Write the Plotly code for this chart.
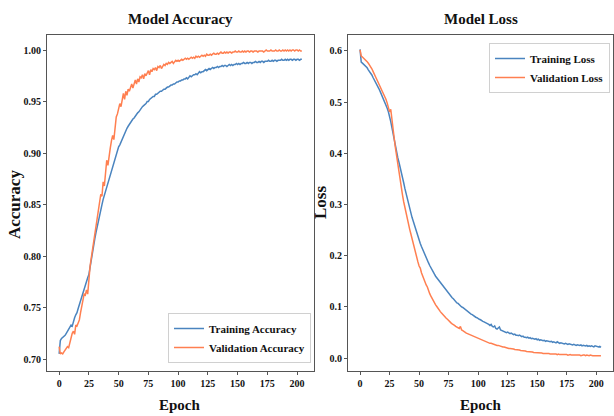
import plotly.graph_objects as go

epochs = list(range(205))

train_acc = [
0.705,0.718,0.720,0.721,0.722,0.723,0.725,0.727,0.728,0.731,
0.733,0.732,0.737,0.740,0.743,0.745,0.749,0.753,0.756,0.760,
0.764,0.767,0.771,0.775,0.779,0.782,0.790,0.797,0.804,0.811,
0.817,0.823,0.829,0.835,0.840,0.845,0.850,0.855,0.859,0.863,
0.867,0.871,0.875,0.879,0.883,0.887,0.891,0.894,0.898,0.902,
0.906,0.908,0.911,0.914,0.917,0.920,0.921,0.924,0.926,0.928,
0.929,0.931,0.933,0.934,0.936,0.937,0.939,0.940,0.942,0.943,
0.945,0.946,0.947,0.948,0.950,0.950,0.952,0.953,0.954,0.955,
0.955,0.957,0.957,0.958,0.959,0.960,0.960,0.961,0.962,0.962,
0.963,0.964,0.964,0.965,0.966,0.966,0.967,0.967,0.968,0.969,
0.969,0.970,0.970,0.971,0.971,0.972,0.972,0.973,0.972,0.974,
0.975,0.974,0.975,0.976,0.976,0.977,0.976,0.978,0.979,0.978,
0.979,0.979,0.980,0.981,0.980,0.981,0.982,0.981,0.982,0.983,
0.982,0.983,0.983,0.984,0.983,0.984,0.984,0.985,0.984,0.985,
0.985,0.984,0.985,0.986,0.985,0.986,0.985,0.986,0.986,0.987,
0.986,0.987,0.986,0.987,0.987,0.988,0.987,0.987,0.988,0.987,
0.988,0.988,0.987,0.988,0.988,0.989,0.988,0.988,0.989,0.988,
0.989,0.989,0.988,0.989,0.989,0.989,0.990,0.989,0.989,0.990,
0.989,0.990,0.990,0.989,0.990,0.990,0.990,0.991,0.990,0.990,
0.991,0.990,0.991,0.990,0.991,0.991,0.990,0.991,0.991,0.990,
0.991,0.991,0.990,0.991,0.991]

val_acc = [
0.712,0.705,0.706,0.705,0.707,0.709,0.711,0.712,0.711,0.716,
0.720,0.725,0.727,0.724,0.733,0.732,0.735,0.738,0.745,0.751,
0.757,0.763,0.762,0.767,0.763,0.780,0.790,0.798,0.806,0.814,
0.821,0.828,0.838,0.847,0.854,0.860,0.858,0.872,0.868,0.882,
0.893,0.888,0.900,0.905,0.912,0.917,0.913,0.926,0.935,0.938,
0.944,0.948,0.945,0.953,0.958,0.952,0.960,0.956,0.962,0.960,
0.964,0.967,0.963,0.968,0.971,0.967,0.972,0.969,0.974,0.973,
0.976,0.972,0.977,0.975,0.978,0.980,0.976,0.981,0.979,0.982,
0.981,0.983,0.980,0.984,0.983,0.985,0.982,0.984,0.986,0.985,
0.987,0.986,0.988,0.987,0.988,0.989,0.987,0.989,0.990,0.989,
0.990,0.989,0.990,0.991,0.990,0.991,0.992,0.991,0.992,0.991,
0.992,0.993,0.992,0.993,0.992,0.994,0.993,0.994,0.993,0.994,
0.995,0.994,0.995,0.994,0.996,0.995,0.995,0.996,0.995,0.996,
0.997,0.996,0.996,0.997,0.996,0.997,0.998,0.997,0.997,0.998,
0.997,0.998,0.997,0.998,0.998,0.997,0.998,0.998,0.999,0.998,
0.998,0.999,0.998,0.998,0.999,0.998,0.999,0.998,0.999,0.999,
0.998,0.999,0.999,0.998,0.999,0.999,0.999,0.998,0.999,0.999,
0.999,0.999,0.998,0.999,1.000,0.999,0.999,0.999,1.000,0.999,
0.999,0.999,1.000,0.999,0.999,1.000,0.999,0.999,1.000,0.999,
1.000,0.999,1.000,0.999,1.000,0.999,1.000,1.000,0.999,1.000,
1.000,0.999,1.000,0.999,0.999]

train_loss = [
0.603,0.578,0.576,0.574,0.572,0.570,0.567,0.563,0.560,0.556,
0.553,0.548,0.544,0.539,0.535,0.530,0.526,0.521,0.516,0.511,
0.506,0.500,0.494,0.488,0.481,0.473,0.462,0.450,0.437,0.424,
0.412,0.401,0.391,0.382,0.373,0.363,0.352,0.342,0.331,0.321,
0.311,0.301,0.292,0.283,0.275,0.268,0.260,0.253,0.245,0.238,
0.231,0.224,0.218,0.212,0.206,0.200,0.196,0.190,0.186,0.181,
0.176,0.172,0.168,0.164,0.160,0.157,0.153,0.149,0.146,0.143,
0.140,0.137,0.134,0.131,0.128,0.126,0.123,0.120,0.118,0.116,
0.113,0.111,0.108,0.107,0.104,0.102,0.100,0.099,0.097,0.095,
0.093,0.091,0.090,0.088,0.086,0.085,0.083,0.082,0.080,0.079,
0.077,0.076,0.075,0.073,0.072,0.071,0.070,0.068,0.067,0.066,
0.064,0.066,0.062,0.061,0.063,0.058,0.057,0.059,0.061,0.055,
0.054,0.053,0.052,0.052,0.050,0.051,0.049,0.048,0.049,0.047,
0.046,0.047,0.045,0.045,0.044,0.045,0.043,0.042,0.043,0.041,
0.041,0.040,0.041,0.039,0.040,0.038,0.039,0.038,0.037,0.038,
0.036,0.037,0.035,0.036,0.035,0.034,0.035,0.033,0.034,0.033,
0.033,0.032,0.033,0.031,0.032,0.031,0.030,0.032,0.030,0.029,
0.030,0.029,0.029,0.028,0.029,0.028,0.027,0.028,0.027,0.027,
0.026,0.027,0.026,0.025,0.026,0.025,0.025,0.026,0.024,0.025,
0.024,0.024,0.025,0.023,0.024,0.023,0.024,0.023,0.022,0.024,
0.023,0.023,0.022,0.023,0.021]

val_loss = [
0.602,0.590,0.588,0.586,0.584,0.582,0.579,0.576,0.573,0.569,
0.565,0.560,0.556,0.550,0.545,0.540,0.537,0.531,0.526,0.521,
0.518,0.512,0.505,0.498,0.490,0.481,0.486,0.462,0.445,0.428,
0.410,0.393,0.378,0.362,0.347,0.333,0.318,0.305,0.293,0.282,
0.272,0.262,0.252,0.243,0.233,0.224,0.214,0.205,0.196,0.188,
0.180,0.176,0.167,0.160,0.154,0.148,0.143,0.139,0.131,0.126,
0.121,0.116,0.112,0.108,0.104,0.101,0.097,0.094,0.091,0.088,
0.085,0.083,0.080,0.078,0.076,0.073,0.071,0.069,0.067,0.066,
0.064,0.062,0.061,0.059,0.058,0.062,0.055,0.054,0.052,0.051,
0.049,0.048,0.047,0.046,0.045,0.043,0.042,0.041,0.040,0.039,
0.038,0.037,0.036,0.035,0.034,0.033,0.032,0.032,0.031,0.030,
0.029,0.029,0.028,0.027,0.027,0.026,0.025,0.025,0.024,0.023,
0.023,0.022,0.022,0.021,0.021,0.020,0.019,0.019,0.019,0.018,
0.018,0.017,0.017,0.016,0.016,0.016,0.015,0.015,0.014,0.014,
0.014,0.013,0.013,0.013,0.012,0.012,0.012,0.011,0.011,0.011,
0.011,0.010,0.010,0.010,0.010,0.009,0.009,0.010,0.009,0.009,
0.009,0.008,0.008,0.009,0.008,0.008,0.008,0.007,0.008,0.007,
0.007,0.007,0.008,0.007,0.007,0.007,0.006,0.007,0.007,0.006,
0.006,0.006,0.007,0.006,0.006,0.006,0.006,0.005,0.006,0.006,
0.006,0.005,0.006,0.005,0.005,0.006,0.005,0.005,0.005,0.005,
0.005,0.005,0.005,0.005,0.005]

acc_ticks = [0.70, 0.75, 0.80, 0.85, 0.90, 0.95, 1.00]
loss_ticks = [0.0, 0.1, 0.2, 0.3, 0.4, 0.5, 0.6]
epoch_ticks = [0, 25, 50, 75, 100, 125, 150, 175, 200]

BLUE = "#4a84bf"
ORANGE = "#ff7f50"
FONT = "Liberation Serif"

fig = go.Figure()
fig.add_trace(go.Scatter(x=epochs, y=train_acc, mode="lines", name="Training Accuracy",
                         line=dict(color=BLUE, width=1.5), xaxis="x", yaxis="y", legend="legend"))
fig.add_trace(go.Scatter(x=epochs, y=val_acc, mode="lines", name="Validation Accuracy",
                         line=dict(color=ORANGE, width=1.5), xaxis="x", yaxis="y", legend="legend"))
fig.add_trace(go.Scatter(x=epochs, y=train_loss, mode="lines", name="Training Loss",
                         line=dict(color=BLUE, width=1.5), xaxis="x2", yaxis="y2", legend="legend2"))
fig.add_trace(go.Scatter(x=epochs, y=val_loss, mode="lines", name="Validation Loss",
                         line=dict(color=ORANGE, width=1.5), xaxis="x2", yaxis="y2", legend="legend2"))

axis_common = dict(showline=True, linecolor="#555555", linewidth=1, mirror=True,
                   ticks="outside", ticklen=3, tickcolor="#555555", showgrid=False,
                   zeroline=False, tickfont=dict(family=FONT, size=10, color="#111", weight="bold"))

ydom = [1 - 371 / 416, 1 - 35 / 416]


def ann(text, x, y, size, angle=0):
    return dict(text=f"<b>{text}</b>", x=x / 614, y=1 - y / 416, xref="paper", yref="paper",
                xanchor="center", yanchor="middle", showarrow=False, textangle=angle,
                font=dict(family=FONT, size=size, color="#111"))


fig.update_layout(
    width=614, height=416,
    margin=dict(l=0, r=0, t=0, b=0),
    plot_bgcolor="white", paper_bgcolor="white",
    showlegend=True,
    xaxis=dict(domain=[47 / 614, 314 / 614], range=[-10.2, 214.2], tickvals=epoch_ticks,
               anchor="y", **axis_common),
    yaxis=dict(domain=ydom, range=[0.6884, 1.0146], tickvals=acc_ticks,
               ticktext=[f"{v:.2f}" for v in acc_ticks], anchor="x", **axis_common),
    xaxis2=dict(domain=[348 / 614, 613 / 614], range=[-10.2, 214.2], tickvals=epoch_ticks,
                anchor="y2", **axis_common),
    yaxis2=dict(domain=ydom, range=[-0.025, 0.631], tickvals=loss_ticks,
                ticktext=[f"{v:.1f}" for v in loss_ticks], anchor="x2", **axis_common),
    legend=dict(x=311 / 614, y=1 - 363 / 416, xanchor="right", yanchor="bottom",
                bgcolor="rgba(255,255,255,0.85)", bordercolor="#d0d0d0", borderwidth=1,
                font=dict(family=FONT, size=11, color="#111", weight="bold"),
                tracegroupgap=0, itemwidth=30),
    legend2=dict(x=610 / 614, y=1 - 43 / 416, xanchor="right", yanchor="top",
                 bgcolor="rgba(255,255,255,0.85)", bordercolor="#d0d0d0", borderwidth=1,
                 font=dict(family=FONT, size=11, color="#111", weight="bold"),
                 tracegroupgap=0, itemwidth=30),
    annotations=[
        ann("Model Accuracy", 180, 19, 15),
        ann("Model Loss", 481, 19, 15),
        ann("Epoch", 180, 405, 15),
        ann("Epoch", 481, 405, 15),
        ann("Accuracy", 14, 205, 17, -90),
        ann("Loss", 321, 203, 17, -90),
    ],
)

fig.write_html("out.html", config={"displayModeBar": False},
               post_script="document.body.style.margin='0';document.body.style.padding='0';")
